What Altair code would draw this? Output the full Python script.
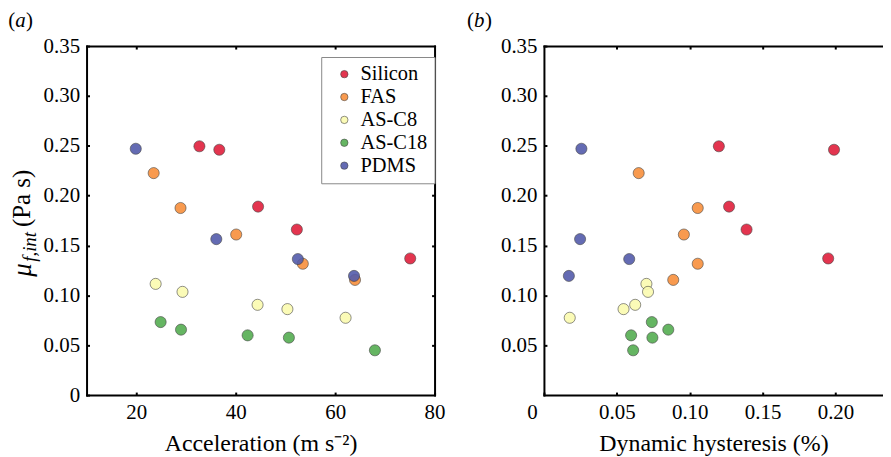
import altair as alt
import pandas as pd

FONT = "Liberation Serif"

materials = ["Silicon", "FAS", "AS-C8", "AS-C18", "PDMS"]
colors = ["#e0203c", "#f8903c", "#fbfbb0", "#55ad52", "#545cab"]

silicon_acc = [32.7, 36.7, 44.5, 52.3, 75.1]
silicon_hyst = [0.120, 0.199, 0.127, 0.139, 0.195]
silicon_mu = [0.2495, 0.246, 0.189, 0.166, 0.137]

fas_acc = [23.5, 28.9, 40.1, 53.5, 64.0]
fas_hyst = [0.065, 0.1055, 0.096, 0.1055, 0.0887]
fas_mu = [0.2226, 0.1876, 0.161, 0.1317, 0.1155]

c8_acc = [23.9, 29.3, 44.4, 50.4, 62.1]
c8_hyst = [0.0703, 0.0714, 0.0626, 0.0546, 0.0177]
c8_mu = [0.1115, 0.1035, 0.0905, 0.0862, 0.0775]

c18_acc = [24.9, 29.0, 42.4, 50.7, 68.0]
c18_hyst = [0.074, 0.0853, 0.0598, 0.0744, 0.0612]
c18_mu = [0.0732, 0.0656, 0.0599, 0.0576, 0.0449]

pdms_acc = [19.9, 36.1, 52.5, 63.8]
pdms_hyst = [0.0257, 0.0248, 0.0585, 0.0171]
pdms_mu = [0.247, 0.1564, 0.1364, 0.1195]

y_ticks = [0, 0.05, 0.10, 0.15, 0.20, 0.25, 0.30, 0.35]
acc_ticks = [20, 40, 60, 80]
hyst_ticks = [0, 0.05, 0.10, 0.15, 0.20]

series = [
    ("Silicon", silicon_acc, silicon_hyst, silicon_mu),
    ("FAS", fas_acc, fas_hyst, fas_mu),
    ("AS-C8", c8_acc, c8_hyst, c8_mu),
    ("AS-C18", c18_acc, c18_hyst, c18_mu),
    ("PDMS", pdms_acc, pdms_hyst, pdms_mu),
]
rows = []
for name, acc, hyst, mu in series:
    for a, h, m in zip(acc, hyst, mu):
        rows.append({"material": name, "acc": a, "hyst": h, "mu": m})
df = pd.DataFrame(rows)
one = pd.DataFrame({"k": [0]})

LAB = "datum.value == 0 ? '0' : format(datum.value, '.2f')"
TICK_IN = {"expr": "-3"}

color_scale = alt.Scale(domain=materials, range=colors)
y_scale = alt.Scale(domain=[0, 0.35], nice=False, zero=False)
acc_scale = alt.Scale(domain=[10, 80], nice=False, zero=False)
hyst_scale = alt.Scale(domain=[0, 0.2326], nice=False, zero=False)

W_A, W_B, H = 350, 341, 351


def pts(xfield, xscale, xaxis, yaxis, legend):
    return alt.Chart(df).mark_circle(
        size=125, stroke="#333333", strokeWidth=0.6, opacity=0.9
    ).encode(
        x=alt.X(f"{xfield}:Q", scale=xscale, axis=xaxis),
        y=alt.Y("mu:Q", scale=y_scale, axis=yaxis),
        color=alt.Color("material:N", scale=color_scale, legend=legend),
    )


def txt(text, x, y, size=21, style="normal", angle=0):
    kw = dict(text=text, font=FONT, fontSize=size, fontStyle=style,
              align="left", baseline="alphabetic", color="black")
    if angle:
        kw["angle"] = angle
    return alt.Chart(one).mark_text(**kw).encode(x=alt.value(x), y=alt.value(y))


# ---- panel (a)
legend_a = alt.Legend(
    title=None, orient="none", legendX=236, legendY=11,
    strokeColor="#888888", fillColor="white", padding=7, rowPadding=2,
    labelFont=FONT, labelFontSize=20.5, labelColor="black", labelOffset=6,
    symbolType="circle", symbolSize=55, symbolStrokeColor="#333333",
    symbolStrokeWidth=0.6, symbolOpacity=0.9, symbolOffset=6,
)
pts_a = pts(
    "acc", acc_scale,
    alt.Axis(values=acc_ticks, title="Acceleration (m s\u207b\u00b2)", orient="bottom",
             tickSize=TICK_IN, labelPadding=10, titlePadding=9, labelFlush=False,
             domainCap="square"),
    alt.Axis(values=y_ticks, labelExpr=LAB, title=None, orient="left",
             tickSize=TICK_IN, labelPadding=10, labelFlush=False, domainCap="square"),
    legend_a,
)
frame_a = alt.Chart(df).mark_circle(opacity=0).encode(
    x=alt.X("acc:Q", scale=acc_scale,
            axis=alt.Axis(orient="top", values=acc_ticks[:-1], labels=False, title=None,
                          tickSize=TICK_IN, domainCap="square")),
    y=alt.Y("mu:Q", scale=y_scale,
            axis=alt.Axis(orient="right", values=y_ticks[1:-1], labels=False, title=None,
                          tickSize=TICK_IN, domainCap="square")),
)
panel_a = alt.layer(
    frame_a, pts_a,
    txt("(", -78.7, -19.6), txt("a", -71.7, -19.6, style="italic"), txt(")", -61, -19.6),
    txt("\u03bc", -56, 232, size=27, style="italic", angle=270),
    txt("f,int", -51, 217, size=19, style="italic", angle=270),
    txt("(Pa s)", -56.5, 182, size=25, angle=270),
).resolve_axis(x="independent", y="independent").properties(width=W_A, height=H)

# ---- panel (b)
pts_b = pts(
    "hyst", hyst_scale,
    alt.Axis(values=hyst_ticks, labelExpr=LAB, title="Dynamic hysteresis (%)", orient="bottom",
             tickSize=TICK_IN, labelPadding=10, titlePadding=9, labelFlush=False,
             domainCap="square",
             labelOffset={"condition": {"test": "datum.value == 0", "value": -12}, "value": 0}),
    alt.Axis(values=y_ticks[1:], labelExpr=LAB, title=None, orient="left",
             tickSize=TICK_IN, labelPadding=10, labelFlush=False, domainCap="square"),
    None,
)
frame_b = alt.Chart(df).mark_circle(opacity=0).encode(
    x=alt.X("hyst:Q", scale=hyst_scale,
            axis=alt.Axis(orient="top", values=hyst_ticks[1:], labels=False, title=None,
                          tickSize=TICK_IN, domainCap="square")),
    y=alt.Y("mu:Q", scale=y_scale, axis=None),
)
panel_b = alt.layer(
    frame_b, pts_b,
    txt("(", -77.3, -19.6), txt("b", -70.3, -19.6, style="italic"), txt(")", -59.3, -19.6),
).resolve_axis(x="independent", y="independent").properties(width=W_B, height=H)

chart = alt.hconcat(panel_a, panel_b, spacing=110, bounds="flush").resolve_legend(
    color="independent"
).properties(
    padding={"left": 0, "top": 0, "right": 0, "bottom": 0}
).configure_view(stroke=None).configure_axis(
    domainColor="black", domainWidth=2, tickColor="black", tickWidth=2,
    labelFont=FONT, labelFontSize=21, labelColor="black",
    titleFont=FONT, titleFontSize=24, titleFontWeight="normal", titleColor="black",
    grid=False,
)

chart.save("out.html", embed_options={"renderer": "svg", "actions": False})
